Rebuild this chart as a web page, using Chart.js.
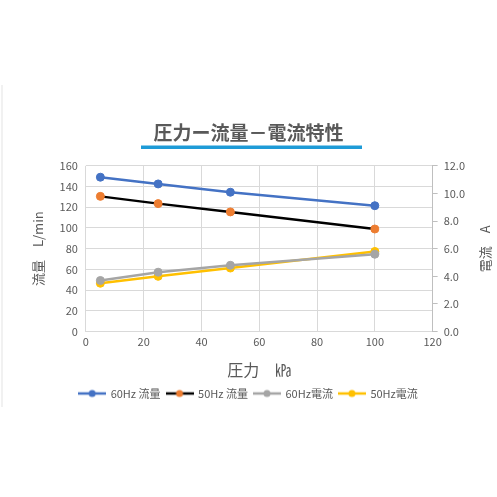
<!DOCTYPE html>
<html>
<head>
<meta charset="utf-8">
<script src="https://cdn.jsdelivr.net/npm/chart.js@4"></script>
<style>
  html, body { margin: 0; padding: 0; background: #fff; }
  #wrap { width: 497px; height: 497px; position: relative; }
</style>
</head>
<body>
<div id="wrap"><canvas id="pqChart"></canvas></div>
<script>
const pressure = [5, 25, 50, 100]; // kPa
const flow60 = [149, 142.5, 134.5, 121.5];
const flow50 = [130.5, 123.5, 115.5, 99];
const current60 = [3.7, 4.3, 4.8, 5.6];
const current50 = [3.5, 4.0, 4.6, 5.8];
const seriesNames = ["60Hz 流量", "50Hz 流量", "60Hz電流", "50Hz電流"];

const font = "'Noto Sans CJK JP', 'Noto Sans', sans-serif";
const gray = "#595959";

function pts(ys) {
    return pressure.map((x, i) => ({ x: x, y: ys[i] }));
}

// small "line with a dot" swatch for the legend
function swatch(lineColor, dotColor) {
    const cv = document.createElement("canvas");
    cv.width = 28;
    cv.height = 10;
    const c = cv.getContext("2d");
    c.strokeStyle = lineColor;
    c.lineWidth = 2.5;
    c.beginPath();
    c.moveTo(0, 5);
    c.lineTo(28, 5);
    c.stroke();
    c.fillStyle = dotColor;
    c.beginPath();
    c.arc(14, 5, 3.5, 0, Math.PI * 2);
    c.fill();
    return cv;
}

// title underline, faint box edge, right axis title read bottom-to-top
const extras = {
    id: "extras",
    afterDraw(chart) {
        const c = chart.ctx;
        c.save();
        c.fillStyle = "#1E9BD7";
        c.fillRect(141, 145.5, 221, 3.5);
        c.fillStyle = "#E3E3E3";
        c.fillRect(1.5, 85, 1, 322);
        const r = chart.scales.y1;
        c.translate(485, (r.top + r.bottom) / 2);
        c.rotate(-Math.PI / 2);
        c.fillStyle = gray;
        c.font = "13px " + font;
        c.textAlign = "center";
        c.textBaseline = "middle";
        c.fillText("電流　A", 0, 0);
        c.restore();
    },
};

const ctx = document.getElementById("pqChart").getContext("2d");
const pqChart = new Chart(ctx, {
    type: "line",
    data: {
        datasets: [
            {
                label: seriesNames[0],
                data: pts(flow60),
                borderColor: "#4472C4",
                backgroundColor: "#4472C4",
                yAxisID: "y",
                legendIcon: swatch("#4472C4", "#4472C4"),
            },
            {
                label: seriesNames[1],
                data: pts(flow50),
                borderColor: "#000000",
                backgroundColor: "#ED7D31",
                pointBorderColor: "#ED7D31",
                yAxisID: "y",
                legendIcon: swatch("#000000", "#ED7D31"),
            },
            {
                label: seriesNames[2],
                data: pts(current60),
                borderColor: "#A5A5A5",
                backgroundColor: "#A5A5A5",
                yAxisID: "y1",
                legendIcon: swatch("#A5A5A5", "#A5A5A5"),
            },
            {
                label: seriesNames[3],
                data: pts(current50),
                borderColor: "#FFC000",
                backgroundColor: "#FFC000",
                yAxisID: "y1",
                legendIcon: swatch("#FFC000", "#FFC000"),
            },
        ],
    },
    options: {
        responsive: true,
        maintainAspectRatio: false,
        animation: false,
        elements: {
            line: { borderWidth: 2.5, tension: 0 },
            point: { radius: 4, borderWidth: 1 },
        },
        layout: { padding: { top: 121, left: 26, right: 26, bottom: 88 } },
        plugins: {
            title: {
                display: true,
                text: "圧力ー流量－電流特性",
                color: gray,
                font: { family: font, size: 19, weight: "bold" },
                padding: { top: 0, bottom: 22 },
            },
            legend: {
                position: "bottom",
                labels: {
                    color: gray,
                    font: { family: font, size: 11 },
                    usePointStyle: true,
                    pointStyleWidth: 26,
                    padding: 6,
                    generateLabels(chart) {
                        return chart.data.datasets.map((ds, i) => ({
                            text: ds.label,
                            pointStyle: ds.legendIcon,
                            fillStyle: ds.borderColor,
                            strokeStyle: ds.borderColor,
                            lineWidth: 0,
                            datasetIndex: i,
                            fontColor: gray,
                        }));
                    },
                },
            },
            tooltip: { enabled: false },
        },
        scales: {
            x: {
                type: "linear",
                min: 0,
                max: 120,
                ticks: { stepSize: 20, color: gray, font: { family: font, size: 11 }, padding: 4 },
                grid: { color: "#D9D9D9", drawTicks: false },
                border: { color: "#D9D9D9" },
                title: {
                    display: true,
                    text: "圧力　㎪",
                    color: gray,
                    font: { family: font, size: 16 },
                    padding: { top: 8, bottom: 2 },
                },
            },
            y: {
                position: "left",
                min: 0,
                max: 160,
                ticks: { stepSize: 20, color: gray, font: { family: font, size: 11 }, padding: 8 },
                grid: { color: "#D9D9D9", drawTicks: false },
                border: { display: false },
                title: {
                    display: true,
                    text: "流量　L/min",
                    color: gray,
                    font: { family: font, size: 13 },
                    padding: { bottom: 6 },
                },
            },
            y1: {
                position: "right",
                min: 0,
                max: 12,
                ticks: {
                    stepSize: 2,
                    color: gray,
                    font: { family: font, size: 11 },
                    padding: 6,
                    callback: (v) => v.toFixed(1),
                },
                grid: { drawOnChartArea: false, color: "#BFBFBF", tickLength: 5 },
                border: { color: "#BFBFBF" },
            },
        },
    },
    plugins: [extras],
});
</script>
</body>
</html>
